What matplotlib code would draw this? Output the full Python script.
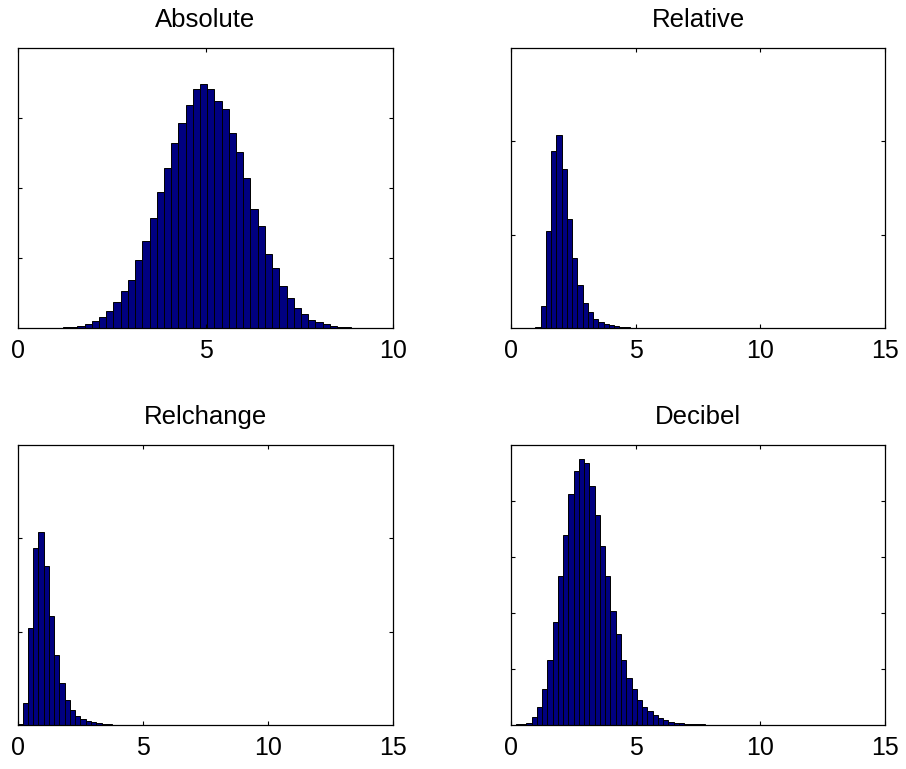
import numpy as np
import matplotlib
matplotlib.use("Agg")
import matplotlib.pyplot as plt

plt.rcParams['font.family'] = ['Liberation Sans', 'DejaVu Sans']

# histogram counts (arbitrary count units)
# each panel: first bin edge, bin width, counts per bin
abs_start, abs_width = 1.2, 0.1923
abs_counts = [10, 14, 33, 57, 105, 157, 248, 376, 524, 686,
              971, 1243, 1571, 1943, 2286, 2643, 2924, 3186, 3419, 3486,
              3419, 3238, 3124, 2790, 2514, 2138, 1705, 1452, 1062, 857,
              600, 429, 286, 205, 119, 81, 52, 29, 14, 10,
              7, 5, 3, 2, 1]

rel_start, rel_width = 0.975, 0.2104
rel_counts = [11, 236, 1043, 1893, 2068, 1700, 1171, 754, 457, 271,
              168, 96, 64, 43, 29, 18, 11, 7, 5, 4,
              3, 3, 2, 2, 2, 1, 1, 1, 1, 1,
              1, 1, 1, 1, 0, 1, 0, 1, 0, 0,
              1, 0, 0, 0, 0, 0, 0, 1, 0, 1]

relch_start, relch_width = -0.025, 0.2104
relch_counts = [11, 236, 1039, 1893, 2064, 1700, 1171, 746, 454, 268,
                164, 96, 64, 43, 29, 18, 11, 7, 5, 4,
                3, 3, 2, 2, 2, 1, 1, 1, 1, 1,
                1, 1, 1, 1, 0, 1, 0, 1, 0, 0,
                1, 0, 0, 0, 0, 0, 0, 1, 0, 1]

db_start, db_width = -0.02, 0.211
db_counts = [6, 12, 24, 36, 137, 327, 637, 1161, 1845, 2655,
             3399, 4119, 4536, 4756, 4685, 4262, 3750, 3202, 2655, 2030,
             1619, 1167, 833, 649, 452, 321, 244, 173, 125, 83,
             60, 42, 30, 24, 18, 12, 12, 6, 6, 6,
             3, 3, 2, 2, 1, 1, 1, 1, 0, 1]

titles = ['Absolute', 'Relative', 'Relchange', 'Decibel']
xmax = [10, 15, 15, 15]
xticks = [[0, 5, 10], [0, 5, 10, 15], [0, 5, 10, 15], [0, 5, 10, 15]]
yticks = [[1000, 2000, 3000], [1000, 2000], [1000, 2000], [1000, 2000, 3000, 4000]]
ymax = [4000, 3000, 3000, 5000]

# axes boxes in figure pixels: left, top, right, bottom
W, H = 906, 769
boxes = [(18, 48, 393, 328), (511, 48, 885, 328),
         (18, 445, 393, 725), (511, 445, 885, 725)]


def draw_hist(ax, start, width, counts, title, xm, xt, yt, ym):
    counts = np.asarray(counts, dtype=float)
    left = start + width * np.arange(len(counts))
    ax.bar(left, counts, width=width, align='edge', color='#000080',
           edgecolor='black', linewidth=0.7)
    ax.set_xlim(0, xm)
    ax.set_ylim(0, ym)
    ax.set_xticks(xt)
    ax.set_yticks(yt)
    ax.tick_params(direction='in', top=True, right=True, labelleft=False,
                   length=3, width=0.8, labelsize=18, pad=8)
    for s in ax.spines.values():
        s.set_linewidth(0.9)
    ax.set_title(title, fontsize=18.5, pad=15)


fig = plt.figure(figsize=(W / 100, H / 100), dpi=100)
data = [(abs_start, abs_width, abs_counts),
        (rel_start, rel_width, rel_counts),
        (relch_start, relch_width, relch_counts),
        (db_start, db_width, db_counts)]

for i, (start, width, counts) in enumerate(data):
    l, t, r, b = boxes[i]
    ax = fig.add_axes([l / W, 1 - b / H, (r - l) / W, (b - t) / H])
    draw_hist(ax, start, width, counts, titles[i], xmax[i], xticks[i], yticks[i], ymax[i])

fig.savefig('out.png', dpi=100)
